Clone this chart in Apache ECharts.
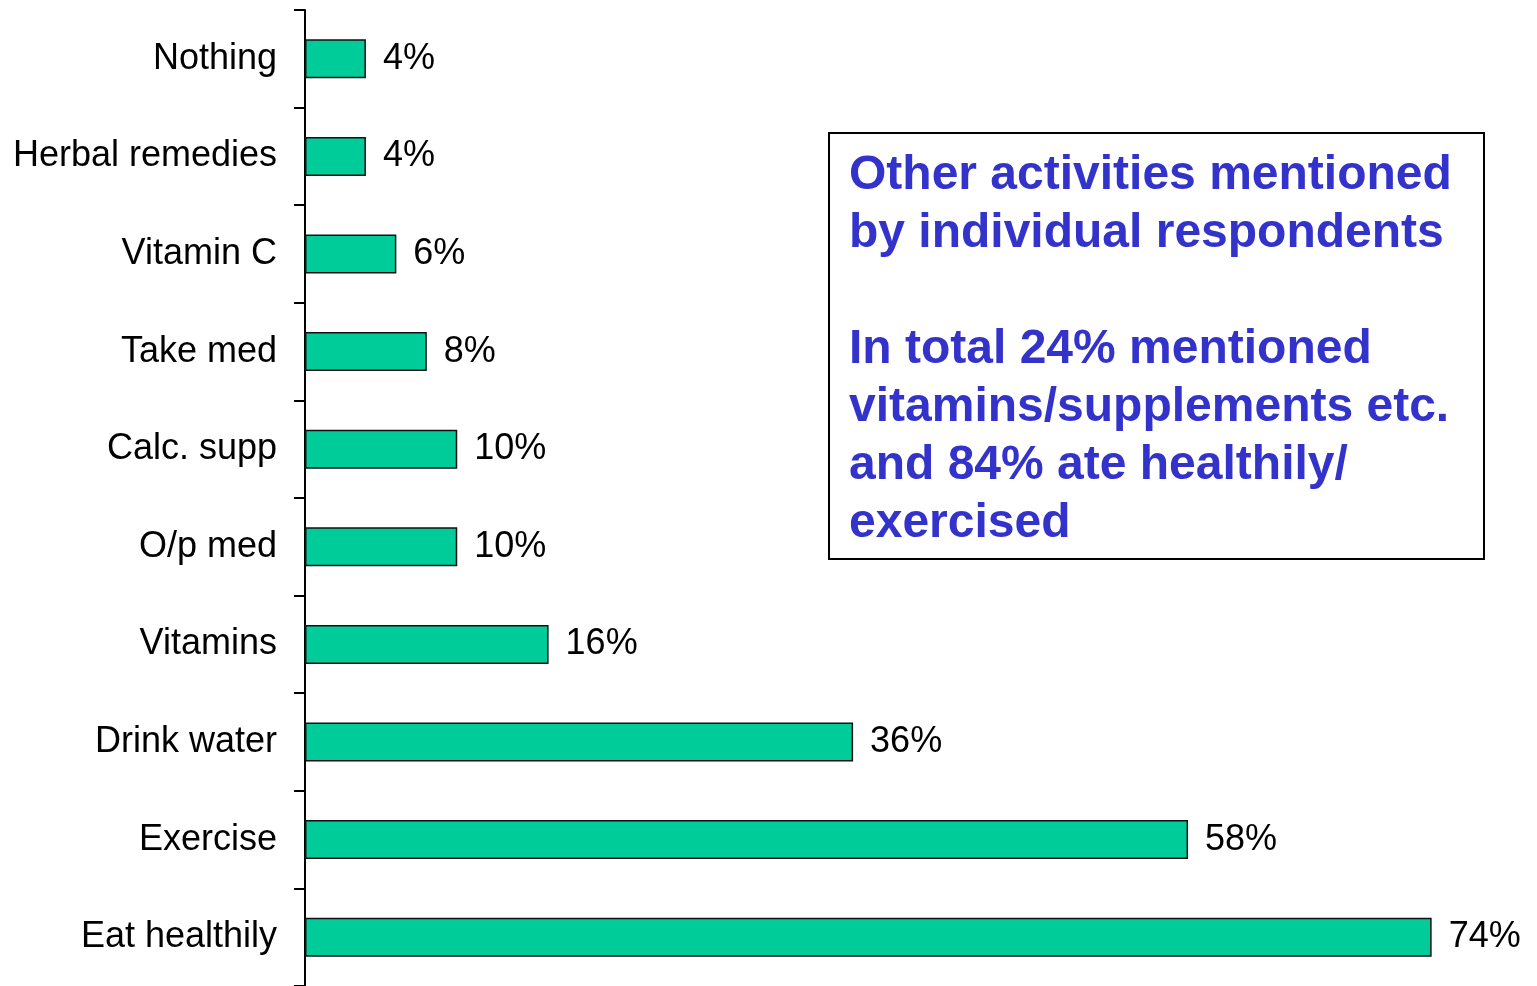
<!DOCTYPE html>
<html>
<head>
<meta charset="utf-8">
<script src="https://cdn.jsdelivr.net/npm/echarts@6/dist/echarts.min.js"></script>
<style>
  html, body { margin: 0; padding: 0; background: #fff; }
  #chart { width: 1537px; height: 986px; }
</style>
</head>
<body>
<div id="chart"></div>
<script>
const categories = ['Nothing', 'Herbal remedies', 'Vitamin C', 'Take med', 'Calc. supp',
                    'O/p med', 'Vitamins', 'Drink water', 'Exercise', 'Eat healthily'];
const values = [4, 4, 6, 8, 10, 10, 16, 36, 58, 74];
const noteLines = [
    'Other activities mentioned',
    'by individual respondents',
    '',
    'In total 24% mentioned',
    'vitamins/supplements etc.',
    'and 84% ate healthily/',
    'exercised'
];

window.addEventListener('load', function () {
    let chart = echarts.init(document.getElementById('chart'));
    let font = 'Liberation Sans, Arial, sans-serif';

    let option = {
        backgroundColor: '#ffffff',
        animation: false,
        grid: { left: 305, top: 10, bottom: -6, right: 14, containLabel: false },
        xAxis: {
            type: 'value',
            min: 0,
            max: 80,
            show: false
        },
        yAxis: {
            type: 'category',
            inverse: true,
            data: categories,
            axisLine: { show: true, lineStyle: { color: '#000', width: 2 } },
            axisTick: { show: true, length: 11, lineStyle: { color: '#000', width: 2 } },
            axisLabel: { color: '#000', fontSize: 36, fontFamily: font, margin: 28, padding: [6, 0, 0, 0] },
            splitLine: { show: false }
        },
        series: [{
            type: 'bar',
            data: values,
            barWidth: 39,
            itemStyle: { color: '#00cc99', borderColor: '#111', borderWidth: 1.5 },
            label: {
                show: true,
                position: 'right',
                distance: 17,
                formatter: '{c}%',
                color: '#000',
                fontSize: 36,
                fontFamily: font,
                padding: [6, 0, 0, 0]
            }
        }],
        graphic: [
            {
                type: 'rect',
                left: 828,
                top: 132,
                shape: { width: 655, height: 426 },
                style: { fill: '#fff', stroke: '#000', lineWidth: 2 }
            },
            {
                type: 'text',
                left: 849,
                top: 147,
                style: {
                    text: noteLines.join('\n'),
                    fill: '#3333cc',
                    font: 'bold 48px ' + font,
                    lineHeight: 58
                }
            }
        ]
    };

    chart.setOption(option);
});
</script>
</body>
</html>
